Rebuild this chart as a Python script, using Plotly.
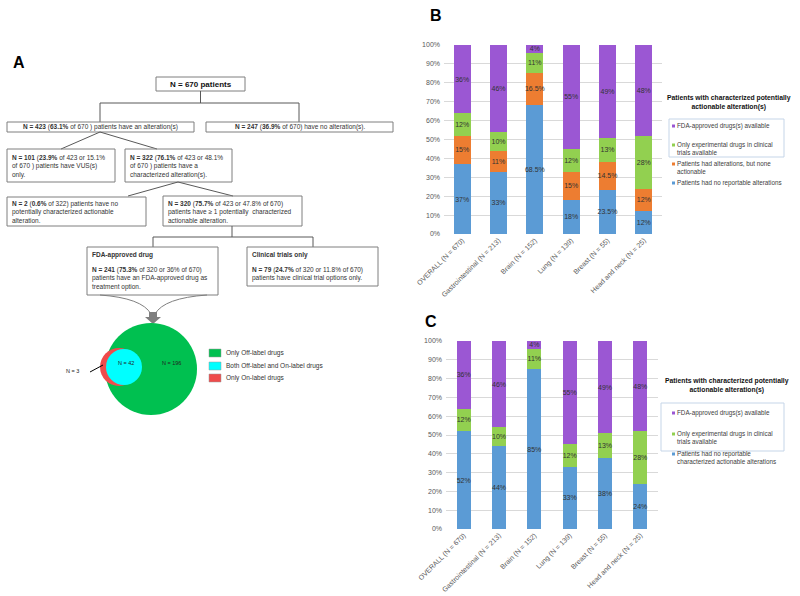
import plotly.graph_objects as go

# ---------------- data ----------------
categories = ["OVERALL (N = 670)", "Gastrointestinal (N = 213)", "Brain (N = 152)",
              "Lung (N = 139)", "Breast (N = 55)", "Head and neck (N = 25)"]
# Panel B (percent of patients)
b_no_alt = [37, 33, 68.5, 18, 23.5, 12]
b_none_actionable = [15, 11, 16.5, 15, 14.5, 12]
b_trials_only = [12, 10, 11, 12, 13, 28]
b_fda = [36, 46, 4, 55, 49, 48]
# Panel C (percent of patients)
c_no_actionable = [52, 44, 85, 33, 38, 24]
c_trials_only = [12, 10, 11, 12, 13, 28]
c_fda = [36, 46, 4, 55, 49, 48]
y_ticks = [0, 10, 20, 30, 40, 50, 60, 70, 80, 90, 100]
y_tick_labels = [f"{v}%" for v in y_ticks]
venn_counts = {"off": 196, "both": 42, "on": 3}

# ---------------- style ----------------
FONT = "Liberation Sans, Arial, sans-serif"
BLUE, ORANGE, GREEN, PURPLE = "#5b9bd5", "#ed7d31", "#92d050", "#9b57d3"
TXT = "#333333"
AX = "#595959"
W, H = 800, 596

fig = go.Figure()


def add_bar(vals, color, xa, ya, width):
    fig.add_trace(go.Bar(
        x=categories, y=vals, width=width, marker=dict(color=color, line=dict(width=0)),
        text=[f"{v:g}%" for v in vals], textposition="inside", textangle=0,
        insidetextanchor="middle", constraintext="none",
        textfont=dict(size=7, color=TXT, family=FONT),
        xaxis=xa, yaxis=ya, showlegend=False, hoverinfo="skip"))


for vals, col in [(b_no_alt, BLUE), (b_none_actionable, ORANGE), (b_trials_only, GREEN), (b_fda, PURPLE)]:
    add_bar(vals, col, "x", "y", 0.47)
for vals, col in [(c_no_actionable, BLUE), (c_trials_only, GREEN), (c_fda, PURPLE)]:
    add_bar(vals, col, "x2", "y2", 0.4)

shapes = []
annotations = []


def line(x0, y0, x1, y1, color="#595959", width=1):
    shapes.append(dict(type="line", xref="x3", yref="y3", x0=x0, y0=y0, x1=x1, y1=y1,
                       line=dict(color=color, width=width)))


def rect(x0, y0, x1, y1, color="#7f7f7f", fill="rgba(0,0,0,0)", width=1):
    shapes.append(dict(type="rect", xref="x3", yref="y3", x0=x0, y0=y0, x1=x1, y1=y1,
                       line=dict(color=color, width=width), fillcolor=fill))


def text(x, y, t, size=6.5, xanchor="left", color=TXT, align="left", yanchor="middle"):
    annotations.append(dict(xref="x3", yref="y3", x=x, y=y, text=t, showarrow=False,
                            xanchor=xanchor, yanchor=yanchor, align=align,
                            font=dict(size=size, color=color, family=FONT)))


# ---------------- Panel A: flowchart ----------------
text(11, 62, "<b>A</b>", size=16, color="#000000")

rect(156, 77, 245, 91)
text(200.5, 84, "<b>N = 670 patients</b>", size=8, xanchor="center", color="#111")
line(200.5, 91, 200.5, 103)
line(100, 103, 299, 103)
line(100, 103, 100, 122)
line(299, 103, 299, 122)

rect(7, 122, 194, 132)
text(100.5, 127, "<b>N = 423</b> (<b>63.1%</b> of 670 ) patients have an alteration(s)", xanchor="center")
rect(206, 122, 393, 132)
text(299.5, 127, "<b>N = 247</b> (<b>36.9%</b> of 670) have no alteration(s).", xanchor="center")

line(100, 132, 61, 149)
line(100, 132, 157, 149)

rect(7, 149, 115, 182)
text(10, 166, "<b>N = 101</b> (<b>23.9%</b> of 423 or 15.1%<br>of 670 ) patients have VUS(s)<br>only.")
rect(125, 149, 232, 182)
text(128, 166, "<b>N = 322</b> (<b>76.1%</b> of 423 or 48.1%<br>of 670 ) patients have a<br>characterized alteration(s).")

line(178, 182, 128, 196)
line(178, 182, 233, 196)

rect(7, 197, 146, 226)
text(10, 211.5, "<b>N = 2</b> (<b>0.6%</b> of 322) patients have no<br>potentially characterized actionable<br>alteration.")
rect(163, 196, 302, 226)
text(166, 211.5, "<b>N = 320</b> (<b>75.7%</b> of 423 or 47.8% of 670)<br>patients have \u2265 1 potentially  characterized<br>actionable alteration.")

line(232, 226, 232, 237)
line(153, 237, 313, 237)
line(153, 237, 153, 247)
line(313, 237, 313, 247)

rect(87, 247, 218, 295)
text(90, 255, "<b>FDA-approved drug</b>")
text(90, 278, "<b>N = 241</b> (<b>75.3%</b> of 320 or 36% of 670)<br>patients have an FDA-approved drug as<br>treatment option.")
rect(247, 247, 378, 286)
text(250, 255, "<b>Clinical trials only</b>")
text(250, 274, "<b>N = 79</b> (<b>24.7%</b> of 320 or 11.8% of 670)<br>patients have clinical trial options only.")

# curved arrows into the Venn diagram
shapes.append(dict(type="path", xref="x3", yref="y3", path="M 100,295 Q 142,298 151,314",
                   line=dict(color="#7f7f7f", width=1)))
shapes.append(dict(type="path", xref="x3", yref="y3", path="M 207,295 Q 164,298 155,314",
                   line=dict(color="#7f7f7f", width=1)))
shapes.append(dict(type="path", xref="x3", yref="y3",
                   path="M 149,312 L 157,312 L 157,317 L 161,317 L 153,324 L 145,317 L 149,317 Z",
                   fillcolor="#7f7f7f", line=dict(width=0)))

# Venn diagram
shapes.append(dict(type="circle", xref="x3", yref="y3", x0=105, y0=323, x1=197, y1=415,
                   fillcolor="#00c050", line=dict(width=0)))
shapes.append(dict(type="circle", xref="x3", yref="y3", x0=100, y0=348, x1=138, y1=386,
                   fillcolor="#ef4b4b", line=dict(width=0)))
shapes.append(dict(type="circle", xref="x3", yref="y3", x0=106, y0=349, x1=142, y1=385,
                   fillcolor="#00ffff", line=dict(width=0)))
text(116, 363, f"N = {venn_counts['both']}", size=5.5, color="#222")
text(160, 363, f"N = {venn_counts['off']}", size=5.5, color="#222")
text(64, 371, f"N = {venn_counts['on']}", size=5.5, color="#222")
line(90, 372, 103, 365, color="#000000")

rect(209, 349, 221, 357, color="#999", fill="#00c050", width=0.5)
rect(209, 362, 221, 370, color="#999", fill="#00ffff", width=0.5)
rect(209, 374, 221, 382, color="#999", fill="#ef4b4b", width=0.5)
text(224, 353, "Only Off-label drugs")
text(224, 366, "Both Off-label and On-label drugs")
text(224, 378, "Only On-label drugs")

# ---------------- Panel B / C legends ----------------
LEG = "#404040"
text(428, 15, "<b>B</b>", size=16, color="#000000")
text(423, 321, "<b>C</b>", size=16, color="#000000")

text(729, 102.5, "<b>Patients with characterized potentially<br>actionable alteration(s)</b>",
     size=6.8, xanchor="center", align="center", color="#111")
rect(669, 119, 784, 157, color="#c5d5e8")


def legend_item(x, y, color, label, lines=1):
    rect(x, y - 1.5, x + 3, y + 1.5, color=color, fill=color, width=0)
    yc = y + (lines - 1) * 3.8
    text(x + 3, yc, label, size=6.3, color=LEG)


legend_item(672, 126, PURPLE, "FDA-approved drugs(s) available")
legend_item(672, 145, GREEN, "Only experimental drugs in clinical<br>trials available", 2)
legend_item(672, 164, ORANGE, "Patients had alterations, but none<br>actionable", 2)
legend_item(672, 183, BLUE, "Patients had no reportable alterations")

text(727, 385.5, "<b>Patients with characterized potentially<br>actionable alteration(s)</b>",
     size=6.8, xanchor="center", align="center", color="#111")
rect(661, 403, 784, 451, color="#c5d5e8")
legend_item(672, 413, PURPLE, "FDA-approved drugs(s) available")
legend_item(672, 434, GREEN, "Only experimental drugs in clinical<br>trials available", 2)
legend_item(672, 454, BLUE, "Patients had no reportable<br>characterized actionable alterations", 2)


def ydom(top, bottom):
    return [1 - bottom / H, 1 - top / H]


yaxis_common = dict(range=[0, 100], autorange=False, tickvals=y_ticks, ticktext=y_tick_labels,
                    gridcolor="#d9d9d9", gridwidth=1, zeroline=False, showline=False,
                    tickfont=dict(size=7, color=AX, family=FONT), ticks="", automargin=False,
                    ticklabelstandoff=3)
xaxis_common = dict(tickangle=-45, tickfont=dict(size=7, color=AX, family=FONT),
                    showline=False, ticks="", showgrid=False, automargin=False)

fig.update_layout(
    template="none",
    width=W, height=H, margin=dict(l=0, r=0, t=0, b=0, pad=0), autosize=False,
    paper_bgcolor="white", plot_bgcolor="rgba(0,0,0,0)",
    barmode="stack", showlegend=False,
    font=dict(family=FONT),
    xaxis=dict(domain=[444 / W, 662 / W], anchor="y", **xaxis_common),
    yaxis=dict(domain=ydom(45, 234), anchor="x", **yaxis_common),
    xaxis2=dict(domain=[446 / W, 658 / W], anchor="y2", **xaxis_common),
    yaxis2=dict(domain=ydom(341, 529), anchor="x2", **yaxis_common),
    xaxis3=dict(domain=[0, 1], range=[0, W], autorange=False, visible=False, anchor="y3",
                fixedrange=True, automargin=False),
    yaxis3=dict(domain=[0, 1], range=[H, 0], autorange=False, visible=False, anchor="x3",
                fixedrange=True, automargin=False),
    shapes=shapes, annotations=annotations,
)

fig.write_html("out.html", config={"displayModeBar": False},
               post_script="document.body.style.margin='0';document.body.style.overflow='hidden';")
